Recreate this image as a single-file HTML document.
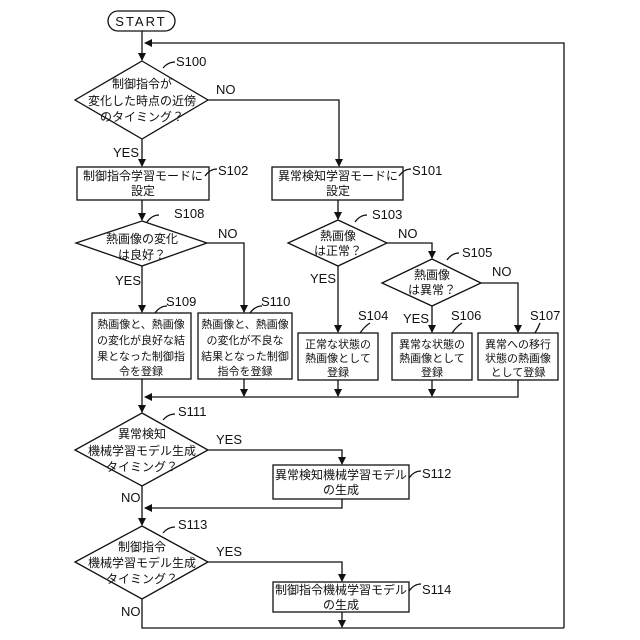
<!DOCTYPE html>
<html><head><meta charset="utf-8"><style>
html,body{margin:0;padding:0;background:#fff;}
svg{display:block;}
text{font-family:"Liberation Sans","Noto Sans CJK JP",sans-serif;font-size:12px;fill:#111;}
.s{font-size:11px;}
.l{font-family:"Liberation Sans",sans-serif;font-size:13px;}
</style></head><body>
<svg width="640" height="640" viewBox="0 0 640 640" xmlns="http://www.w3.org/2000/svg">
<defs><marker id="a" markerWidth="8" markerHeight="10" refX="7" refY="5" orient="auto" markerUnits="userSpaceOnUse"><path d="M0,1 L8,5 L0,9 z" fill="#111"/></marker></defs>
<g stroke="#111" stroke-width="1.3" fill="none">
<rect x="108" y="11" width="67" height="20" rx="10"/>
<line x1="142" y1="31" x2="142" y2="60" marker-end="url(#a)"/>
<polyline points="564,628 564,43 145,43" marker-end="url(#a)"/>
<polygon points="142,61 208,100 142,139 75,100" fill="#fff"/>
<line x1="142" y1="139" x2="142" y2="166" marker-end="url(#a)"/>
<polyline points="208,100 339,100 339,166" marker-end="url(#a)"/>
<rect x="77" y="167" width="132" height="33"/>
<rect x="272" y="167" width="131" height="33"/>
<line x1="142" y1="200" x2="142" y2="220" marker-end="url(#a)"/>
<line x1="338" y1="200" x2="338" y2="219" marker-end="url(#a)"/>
<polygon points="142,221 207,243 142,266 76,243"/>
<line x1="142" y1="266" x2="142" y2="312" marker-end="url(#a)"/>
<polyline points="207,243 244,243 244,312" marker-end="url(#a)"/>
<rect x="92" y="313" width="99" height="66"/>
<rect x="198" y="313" width="94" height="66"/>
<polygon points="338,220 387,243 338,266 288,243"/>
<line x1="338" y1="266" x2="338" y2="332" marker-end="url(#a)"/>
<polyline points="387,243 432,243 432,258" marker-end="url(#a)"/>
<polygon points="432,259 481,283 432,306 382,283"/>
<line x1="432" y1="306" x2="432" y2="332" marker-end="url(#a)"/>
<polyline points="481,283 518,283 518,332" marker-end="url(#a)"/>
<rect x="298" y="333" width="80" height="47"/>
<rect x="392" y="333" width="80" height="47"/>
<rect x="478" y="333" width="80" height="47"/>
<line x1="244" y1="379" x2="244" y2="396" marker-end="url(#a)"/>
<line x1="338" y1="380" x2="338" y2="396" marker-end="url(#a)"/>
<line x1="432" y1="380" x2="432" y2="396" marker-end="url(#a)"/>
<polyline points="518,380 518,397 145,397" marker-end="url(#a)"/>
<line x1="142" y1="379" x2="142" y2="412" marker-end="url(#a)"/>
<polygon points="142,413 208,450 142,486 75,450"/>
<polyline points="208,450 342,450 342,464" marker-end="url(#a)"/>
<rect x="273" y="465" width="136" height="34"/>
<polyline points="342,499 342,508 145,508" marker-end="url(#a)"/>
<line x1="142" y1="486" x2="142" y2="525" marker-end="url(#a)"/>
<polygon points="142,526 208,562 142,599 75,562"/>
<polyline points="208,562 342,562 342,581" marker-end="url(#a)"/>
<rect x="273" y="582" width="136" height="30"/>
<line x1="342" y1="612" x2="342" y2="627" marker-end="url(#a)"/>
<polyline points="142,599 142,628 564,628"/>
<path d="M163,68 q5,-6 12,-6 M205,176 q5,-7 12,-7 M399,176 q5,-7 12,-7 M147,222 q5,-7 12,-7 M355,222 q5,-7 12,-7 M447,260 q5,-7 12,-7 M155,313 q5,-7 12,-7 M250,313 q5,-7 12,-7 M360,333 q5,-7 10,-10 M452,333 q5,-7 10,-10 M535,333 q3,-5 5,-10 M163,420 q5,-6 12,-6 M409,478 q5,-7 12,-7 M163,533 q5,-6 12,-6 M409,591 q5,-7 12,-7"/>
</g>
<g text-anchor="middle">
<text class="l" x="141" y="26" font-size="11" letter-spacing="2">START</text>
<text x="142" y="88">制御指令が</text>
<text x="142" y="105">変化した時点の近傍</text>
<text x="142" y="121">のタイミング？</text>
<text x="143" y="180">制御指令学習モードに</text>
<text x="143" y="195">設定</text>
<text x="338" y="180">異常検知学習モードに</text>
<text x="338" y="195">設定</text>
<text x="142" y="243">熱画像の変化</text>
<text x="142" y="259">は良好？</text>
<text class="s" x="141" y="328">熱画像と、熱画像</text>
<text class="s" x="141" y="344">の変化が良好な結</text>
<text class="s" x="141" y="360">果となった制御指</text>
<text class="s" x="141" y="375">令を登録</text>
<text class="s" x="245" y="328">熱画像と、熱画像</text>
<text class="s" x="245" y="344">の変化が不良な</text>
<text class="s" x="245" y="360">結果となった制御</text>
<text class="s" x="245" y="375">指令を登録</text>
<text x="338" y="240">熱画像</text>
<text x="338" y="255">は正常？</text>
<text x="432" y="279">熱画像</text>
<text x="432" y="294">は異常？</text>
<text class="s" x="338" y="348">正常な状態の</text>
<text class="s" x="338" y="362">熱画像として</text>
<text class="s" x="338" y="376">登録</text>
<text class="s" x="432" y="348">異常な状態の</text>
<text class="s" x="432" y="362">熱画像として</text>
<text class="s" x="432" y="376">登録</text>
<text class="s" x="518" y="348">異常への移行</text>
<text class="s" x="518" y="362">状態の熱画像</text>
<text class="s" x="518" y="376">として登録</text>
<text x="142" y="438">異常検知</text>
<text x="142" y="455">機械学習モデル生成</text>
<text x="142" y="471">タイミング？</text>
<text x="341" y="479">異常検知機械学習モデル</text>
<text x="341" y="494">の生成</text>
<text x="142" y="551">制御指令</text>
<text x="142" y="567">機械学習モデル生成</text>
<text x="142" y="583">タイミング？</text>
<text x="341" y="594">制御指令機械学習モデル</text>
<text x="341" y="609">の生成</text>
</g>
<g class="l">
<text class="l" x="176" y="66">S100</text>
<text class="l" x="216" y="94">NO</text>
<text class="l" x="113" y="157">YES</text>
<text class="l" x="218" y="175">S102</text>
<text class="l" x="412" y="175">S101</text>
<text class="l" x="174" y="218">S108</text>
<text class="l" x="218" y="238">NO</text>
<text class="l" x="115" y="285">YES</text>
<text class="l" x="166" y="306">S109</text>
<text class="l" x="261" y="306">S110</text>
<text class="l" x="372" y="219">S103</text>
<text class="l" x="398" y="238">NO</text>
<text class="l" x="310" y="283">YES</text>
<text class="l" x="462" y="257">S105</text>
<text class="l" x="492" y="276">NO</text>
<text class="l" x="403" y="323">YES</text>
<text class="l" x="358" y="320">S104</text>
<text class="l" x="451" y="320">S106</text>
<text class="l" x="530" y="320">S107</text>
<text class="l" x="178" y="416">S111</text>
<text class="l" x="216" y="444">YES</text>
<text class="l" x="422" y="478">S112</text>
<text class="l" x="121" y="502">NO</text>
<text class="l" x="178" y="529">S113</text>
<text class="l" x="216" y="556">YES</text>
<text class="l" x="422" y="594">S114</text>
<text class="l" x="121" y="616">NO</text>
</g>
</svg>
</body></html>
